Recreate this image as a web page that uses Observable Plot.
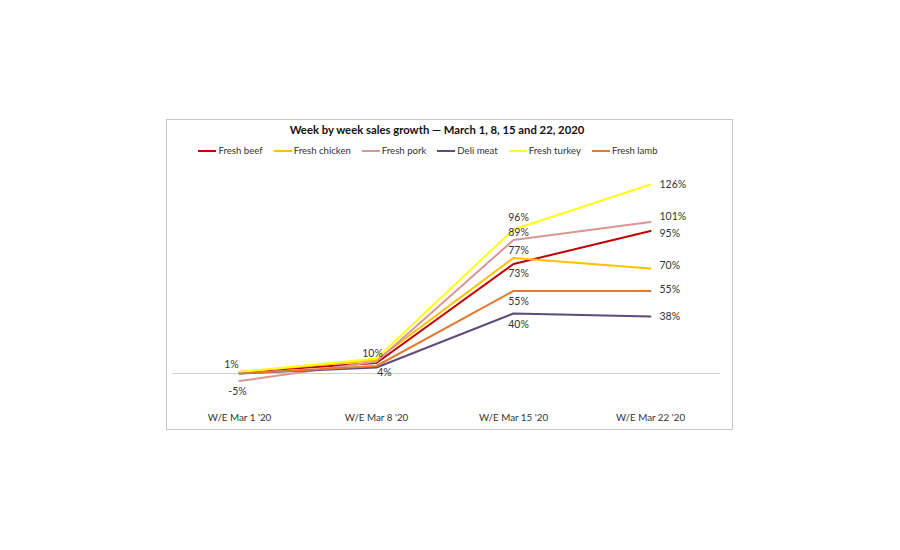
<!DOCTYPE html>
<html><head><meta charset="utf-8">
<script src="https://cdn.jsdelivr.net/npm/d3@7"></script>
<script src="https://cdn.jsdelivr.net/npm/@observablehq/plot@0.6"></script>
<style>
html,body{margin:0;padding:0;background:#fff;}
body{width:900px;height:550px;position:relative;overflow:hidden;font-family:Lato,"Open Sans",sans-serif;}
#box{position:absolute;left:166px;top:119px;width:565px;height:309px;border:1px solid #c6c6c6;}
#title{position:absolute;left:166px;width:542px;top:123px;text-align:center;font-weight:bold;font-size:11.3px;color:#111;}
#legend{position:absolute;left:150px;width:556px;top:145px;display:flex;justify-content:center;gap:11px;font-size:9.6px;color:#333;}
#legend span.item{display:flex;align-items:center;}
#legend span.sw{display:inline-block;width:18px;height:2px;margin-right:2px;}
#chart{position:absolute;left:0;top:0;}
</style></head>
<body>
<div id="box"></div>
<div id="title"></div>
<div id="legend"></div>
<div id="chart"></div>
<script>
const title = "Week by week sales growth — March 1, 8, 15 and 22, 2020";
const weeks = ["W/E Mar 1 '20", "W/E Mar 8 '20", "W/E Mar 15 '20", "W/E Mar 22 '20"];
const series = ["Fresh beef", "Fresh chicken", "Fresh pork", "Deli meat", "Fresh turkey", "Fresh lamb"];
const colors = ["#c00000", "#ffc000", "#d99694", "#5f4b7b", "#ffff1a", "#e07b35"];
const beef    = [1, 7, 73, 95];
const chicken = [1, 9, 77, 70];
const pork    = [-5, 8, 89, 101];
const deli    = [0, 4, 40, 38];
const turkey  = [1, 10, 96, 126];
const lamb    = [0, 5, 55, 55];
const values = [beef, chicken, pork, deli, turkey, lamb];
// which points carry a data label: [series, week index]
const labelled = [
  ["Fresh beef", 0], ["Fresh pork", 0],
  ["Fresh turkey", 1], ["Deli meat", 1],
  ["Fresh turkey", 2], ["Fresh pork", 2], ["Fresh chicken", 2], ["Fresh beef", 2], ["Fresh lamb", 2], ["Deli meat", 2],
  ["Fresh turkey", 3], ["Fresh pork", 3], ["Fresh beef", 3], ["Fresh chicken", 3], ["Fresh lamb", 3], ["Deli meat", 3]
];

document.getElementById("title").textContent = title;
const lg = document.getElementById("legend");
series.forEach((s, i) => {
  const it = document.createElement("span"); it.className = "item";
  const sw = document.createElement("span"); sw.className = "sw"; sw.style.background = colors[i];
  it.appendChild(sw); it.appendChild(document.createTextNode(s)); lg.appendChild(it);
});

const data = [];
series.forEach((s, i) => weeks.forEach((w, j) => data.push({series: s, week: w, wi: j, value: values[i][j]})));
const find = (s, j) => data.find(d => d.series === s && d.wi === j);
const labs = labelled.map(([s, j]) => find(s, j));

// label offsets (style, not data)
const dyTable = {
  "Fresh pork|0": 11, "Deli meat|1": 5, "Fresh beef|0": -7, "Fresh turkey|1": -5,
  "Fresh turkey|2": -12, "Fresh pork|2": -7, "Fresh chicken|2": -7, "Fresh beef|2": 10,
  "Fresh lamb|2": 11, "Deli meat|2": 11,
  "Fresh turkey|3": 0, "Fresh pork|3": -5, "Fresh beef|3": 3, "Fresh chicken|3": -3, "Fresh lamb|3": -1, "Deli meat|3": 0
};
const dyOf = d => dyTable[d.series + "|" + d.wi] || 0;
const dxOf = d => {
  if (d.wi === 3) return 9;
  if (d.wi === 0) return d.series === "Fresh pork" ? -2 : -8;
  if (d.wi === 1) return d.series === "Deli meat" ? 8 : -4;
  return 5;
};

const marks = [
  Plot.ruleY([0], {stroke: "#d0d0d0", strokeWidth: 1, insetLeft: -66, insetRight: -69}),
  Plot.axisX({tickSize: 0, tickPadding: 9, fontSize: 9.8, fill: "#333", label: null, tickFormat: d => d}),
  Plot.line(data, {x: "week", y: "value", z: "series", stroke: "series", strokeWidth: 2, curve: "linear"})
];
labs.forEach(d => {
  marks.push(Plot.text([d], {
    x: "week", y: "value", text: v => v.value + "%",
    dx: dxOf(d), dy: dyOf(d),
    textAnchor: d.wi === 3 ? "start" : "middle",
    fontSize: 10.5, fill: "#333"
  }));
});
const chart = Plot.plot({
  width: 900, height: 550,
  marginLeft: 238, marginRight: 249, marginTop: 178, marginBottom: 145,
  style: {fontFamily: "Lato, 'Open Sans', sans-serif", background: "transparent", overflow: "visible"},
  x: {type: "point", domain: weeks, padding: 0, axis: null, label: null},
  y: {domain: [-10, 130], range: [388, 178], axis: null},
  color: {domain: series, range: colors},
  marks
});
document.getElementById("chart").appendChild(chart);
</script>
</body></html>
